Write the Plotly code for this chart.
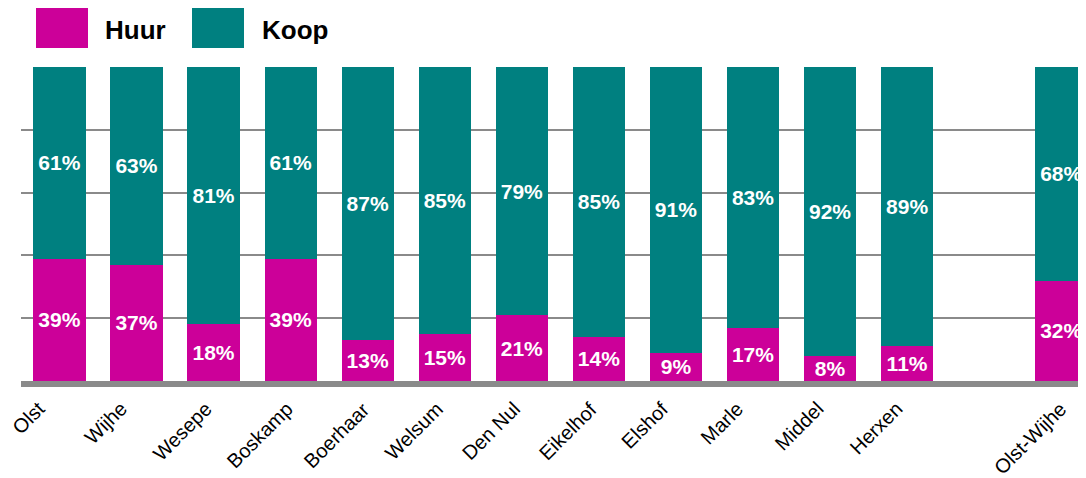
import plotly.graph_objects as go

# ── Data ──────────────────────────────────────────────────────────────────────
categories = ["Olst", "Wijhe", "Wesepe", "Boskamp", "Boerhaar", "Welsum", "Den Nul",
              "Eikelhof", "Elshof", "Marle", "Middel", "Herxen", " ", "Olst-Wijhe"]
huur = [39, 37, 18, 39, 13, 15, 21, 14, 9, 17, 8, 11, None, 32]
koop = [61, 63, 81, 61, 87, 85, 79, 85, 91, 83, 92, 89, None, 68]

COLORS = {"Huur": "#CC0099", "Koop": "#008080", "grid": "#8A8A8A"}
FONT = "Arial, Liberation Sans, sans-serif"

# the page body adds an 8px offset, so the figure is 8px smaller than the window
W, H = 1078, 470
PLOT_L, PLOT_T, PLOT_B = 21, 67, 381          # target pixel edges in the window
PW, PH = 1086 - PLOT_L, PLOT_B - PLOT_T


def px_x(p):
    return (p - PLOT_L) / PW


def px_y(p):
    return (PLOT_B - p) / PH


def pct(vals):
    return [f"{v}%" if v is not None else "" for v in vals]


fig = go.Figure()
for name, vals in (("Huur", huur), ("Koop", koop)):
    fig.add_trace(go.Bar(
        x=categories, y=vals, name=name,
        marker=dict(color=COLORS[name], line=dict(width=0)),
        width=0.68,
        text=pct(vals), textposition="inside", insidetextanchor="middle",
        textangle=0, constraintext="none",
        textfont=dict(family=FONT, size=21, color="white", weight="bold"),
        showlegend=False,
    ))

# category labels: centred under the bar (shifted left), rotated like the original
for cat in categories:
    if not cat.strip():
        continue
    fig.add_annotation(x=cat, y=0, xref="x", yref="paper", text=cat,
                       showarrow=False, textangle=-45,
                       xanchor="center", yanchor="top", xshift=-31, yshift=-14,
                       font=dict(family=FONT, size=20, color="black"))

# legend drawn as swatches + labels (big squares like the original)
for sx, tx, name in ((36, 105, "Huur"), (192, 262, "Koop")):
    fig.add_shape(type="rect", xref="paper", yref="paper",
                  x0=px_x(sx), x1=px_x(sx + 52), y0=px_y(48), y1=px_y(8),
                  fillcolor=COLORS[name], line=dict(width=0))
    fig.add_annotation(xref="paper", yref="paper", x=px_x(tx), y=px_y(30),
                       text=f"<b>{name}</b>", showarrow=False, xanchor="left",
                       yanchor="middle", xshift=-2,
                       font=dict(family=FONT, size=26, color="black"))

fig.update_layout(
    barmode="stack",
    barnorm="percent",
    width=W, height=H,
    paper_bgcolor="white", plot_bgcolor="white",
    margin=dict(t=PLOT_T - 8, b=H - (PLOT_B - 8), l=PLOT_L - 8, r=0),
    font=dict(family=FONT, color="black"),
    xaxis=dict(range=[-0.5, 13.32], showgrid=False, showticklabels=False, ticks="",
               showline=True, linecolor=COLORS["grid"], linewidth=6),
    yaxis=dict(range=[0, 100], dtick=20, showgrid=True, gridcolor=COLORS["grid"],
               gridwidth=2, showticklabels=False, zeroline=False),
)

fig.write_html("out.html")
